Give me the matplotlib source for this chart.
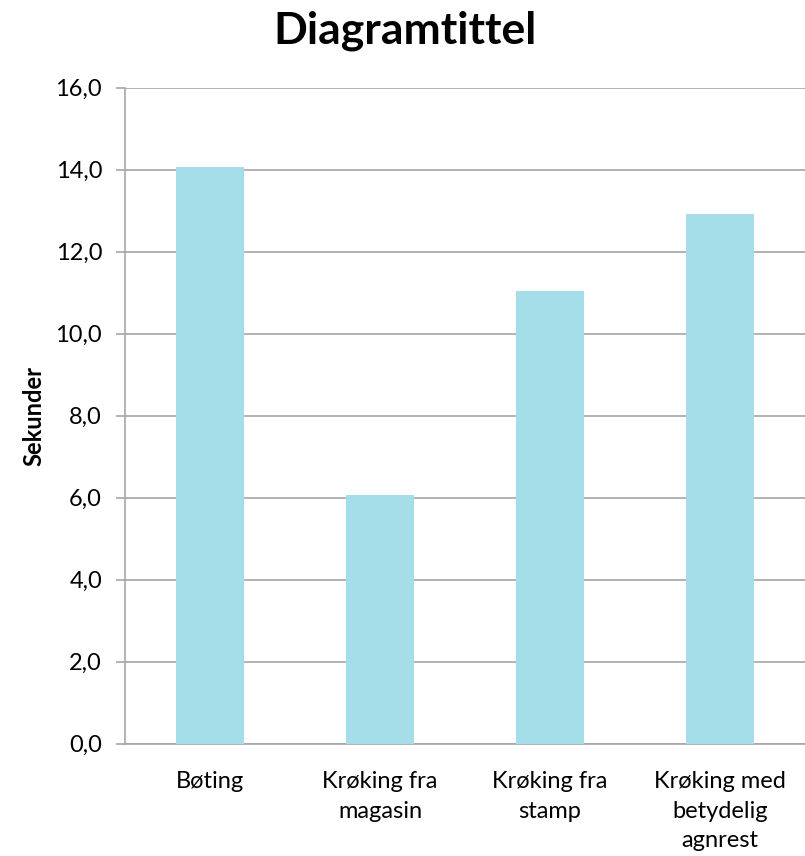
import matplotlib
matplotlib.use("Agg")
import matplotlib.pyplot as plt
from matplotlib.ticker import FuncFormatter, MultipleLocator

categories = ["Bøting", "Krøking fra\nmagasin", "Krøking fra\nstamp", "Krøking med\nbetydelig\nagnrest"]
values = [14.05, 6.06, 11.04, 12.91]
title = "Diagramtittel"
ylabel = "Sekunder"

plt.rcParams['font.family'] = ['Lato', 'DejaVu Sans']

W, H = 805, 856
fig = plt.figure(figsize=(W / 100, H / 100), dpi=100)
left, right = 125 / W, 805 / W
bottom, top = (H - 743.5) / H, (H - 87.5) / H
ax = fig.add_axes([left, bottom, right - left, top - bottom])

x = list(range(len(categories)))
ax.bar(x, values, width=0.4, color="#A5DEE8", zorder=3)
ax.set_xlim(-0.5, len(categories) - 0.5)
ax.set_ylim(0, 16)
ax.yaxis.set_major_locator(MultipleLocator(2))
ax.yaxis.set_major_formatter(FuncFormatter(lambda v, p: f"{v:.1f}".replace(".", ",")))
ax.grid(axis="y", color="#A6A6A6", linewidth=1.2, zorder=0)

for s in ["top", "right"]:
    ax.spines[s].set_visible(False)
ax.spines["left"].set_color("#A6A6A6")
ax.spines["bottom"].set_color("#A6A6A6")
ax.spines["left"].set_linewidth(1.2)
ax.spines["bottom"].set_linewidth(1.2)

ax.tick_params(axis="y", length=6.5, width=1.2, color="#A6A6A6", labelsize=17, pad=10)
ax.tick_params(axis="x", length=0, labelsize=17, pad=20)
ax.set_xticks(x)
ax.set_xticklabels(categories, linespacing=1.5)

ax.set_ylabel(ylabel, fontsize=17, fontweight="bold", labelpad=7)
fig.text(0.503, 1 - 31 / H, title, ha="center", va="center", fontsize=32, fontweight="bold")

fig.savefig("out.png", dpi=100)
